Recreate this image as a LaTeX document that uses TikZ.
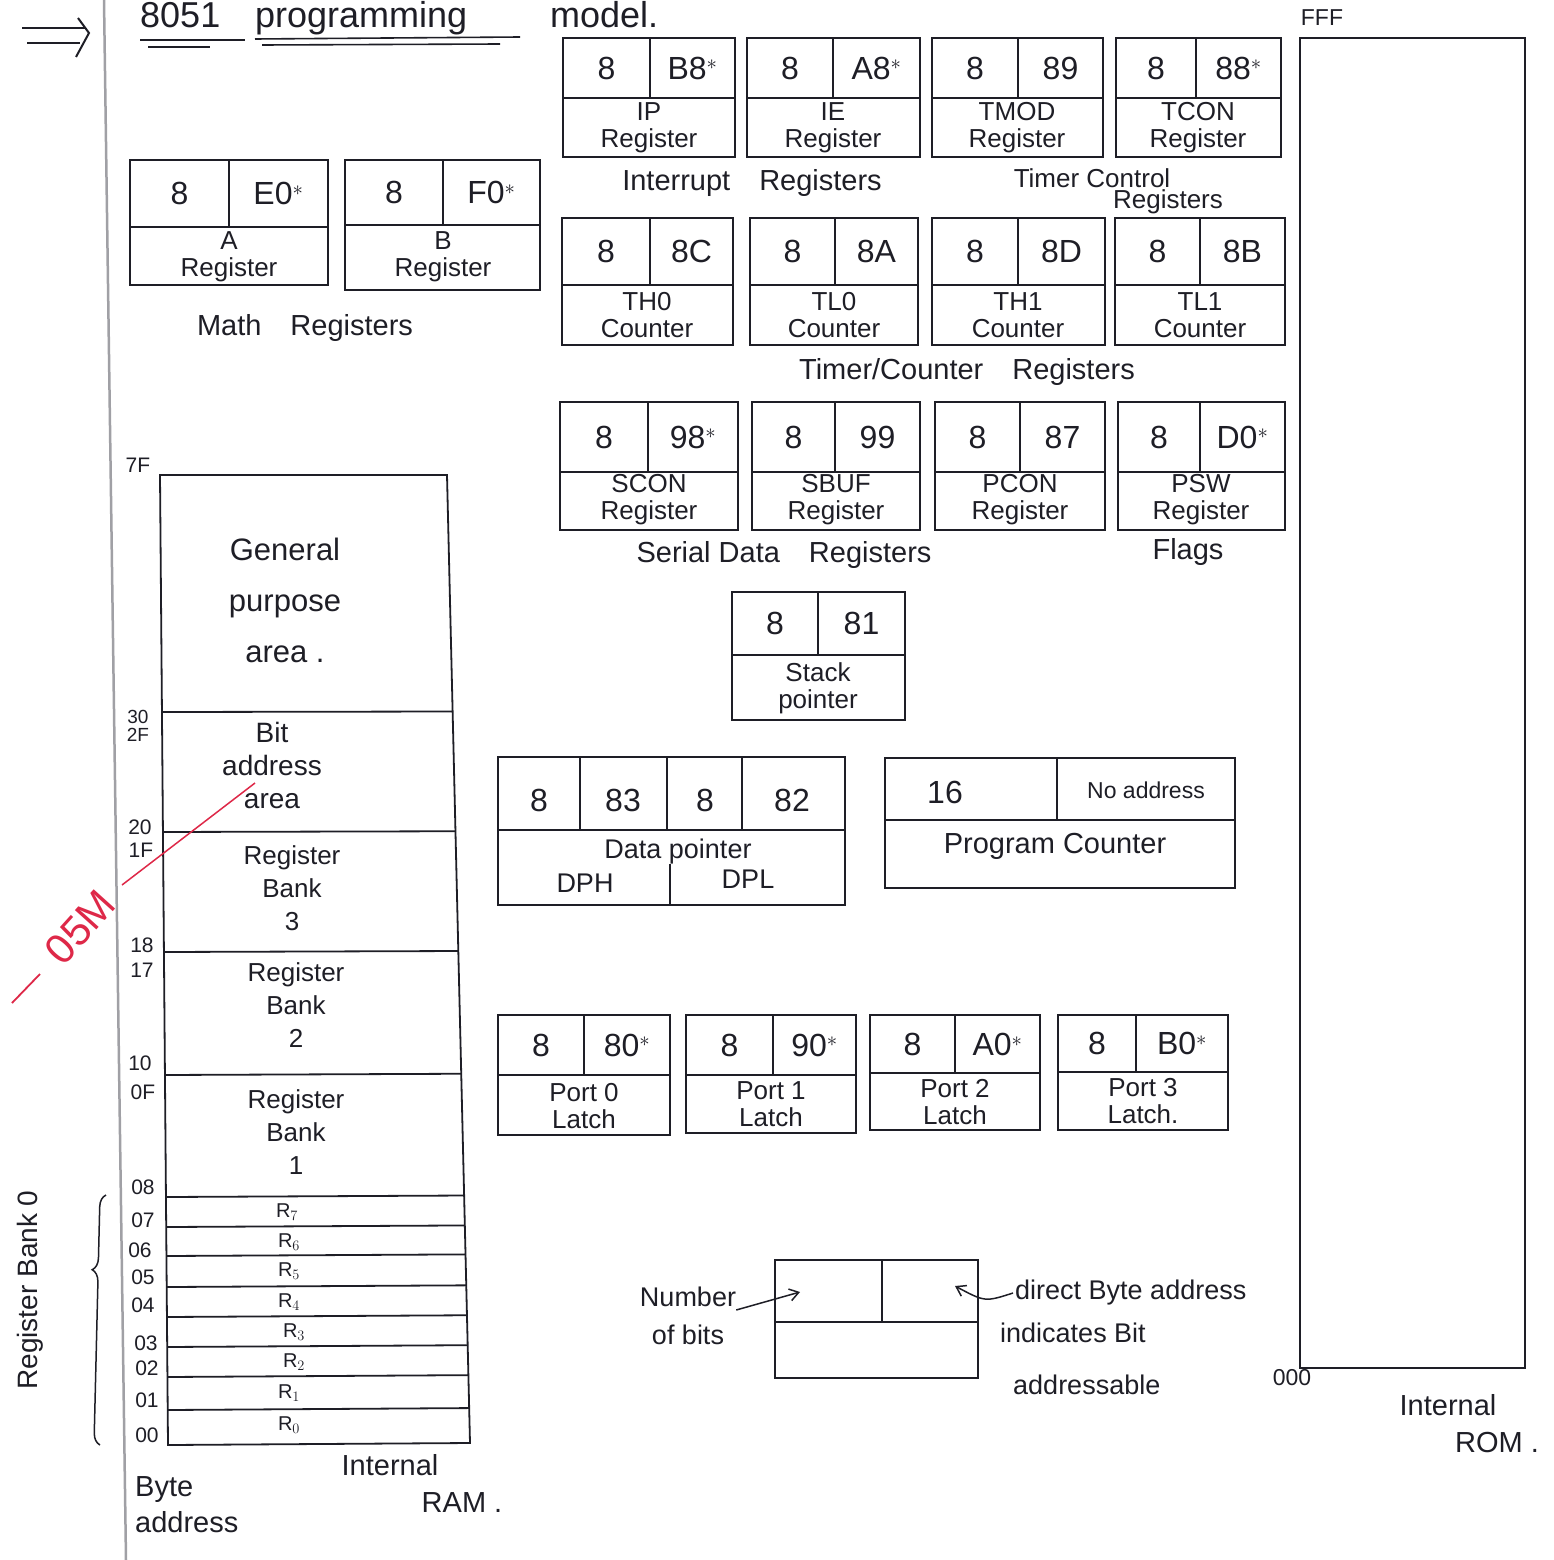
\documentclass[tikz,border=0pt]{standalone}
\usepackage{fontspec}
\setmainfont{Liberation Sans}
\usetikzlibrary{calc,arrows.meta,decorations.pathreplacing}
\definecolor{ink}{RGB}{30,30,38}
\definecolor{redink}{RGB}{222,40,72}
\definecolor{marginc}{RGB}{160,160,165}
\newcommand\regbox[9]{%
  \draw[boxline] (#2,#3) rectangle (#4,#5);
  \draw[boxline] (#2,#7) -- (#4,#7);
  \draw[boxline] (#6,#3) -- (#6,#7);
  \node[num] (#1l) at ({(#2+#6)/2},{(#3+#7)/2}) {#8};
  \node[num] (#1r) at ({(#6+#4)/2},{(#3+#7)/2}) {#9};
}
\begin{document}
\begin{tikzpicture}[x=1pt,y=-1pt,
  boxline/.style={draw=ink, line width=1.8pt},
  num/.style={font=\fontsize{32}{36}\selectfont, text=ink, inner sep=0},
  sub/.style={font=\fontsize{26}{27}\selectfont, text=ink, align=center, inner sep=0},
  grp/.style={font=\fontsize{29}{33}\selectfont, text=ink, align=center, inner sep=0},
  ramtxt/.style={font=\fontsize{26}{33}\selectfont, text=ink, align=center, inner sep=0},
  addr/.style={font=\fontsize{21}{24}\selectfont, text=ink, inner sep=0},
  rr/.style={font=\fontsize{20}{22}\selectfont, text=ink, inner sep=0},
  arr/.style={draw=ink, line width=1.5pt, -{Straight Barb[length=9pt,width=12pt]}},
]
\useasboundingbox (0,0) rectangle (1553,1560);
\fill[white] (0,0) rectangle (1553,1560);

% notebook margin
\draw[marginc, line width=2.5pt] (104,0) -- (126,1560);

% title
\draw[ink, line width=2pt] (22,28) -- (85,28);
\draw[ink, line width=2pt] (27,43) -- (80,43);
\draw[ink, line width=2pt] (78,18) -- (89,33) -- (76,57);
\node[anchor=base west, font=\fontsize{36}{40}\selectfont, text=ink, inner sep=0] (t1) at (140,28) {8051};
\node[anchor=base west, font=\fontsize{36}{40}\selectfont, text=ink, inner sep=0] (t2) at (255,28) {programming};
\node[anchor=base west, font=\fontsize{36}{40}\selectfont, text=ink, inner sep=0] (t3) at (550,28) {model.};
\draw[ink, line width=1.6pt] (140,40) -- (245,40);
\draw[ink, line width=1.6pt] (148,47) -- (210,47);
\draw[ink, line width=1.6pt] (255,39) -- (520,37);
\draw[ink, line width=1.6pt] (262,45) -- (500,44);

% interrupt / timer control
\regbox{ip}{563}{38}{735}{157}{650}{98}{8}{B8$^*$}
\node[sub] (ipb) at (649,128) {IP\\Register};
\regbox{ie}{747}{38}{920}{157}{833}{98}{8}{A8$^*$}
\node[sub] (ieb) at (833,128) {IE\\Register};
\regbox{tmod}{932}{38}{1103}{157}{1018}{98}{8}{89}
\node[sub] (tmodb) at (1017,128) {TMOD\\Register};
\regbox{tcon}{1116}{38}{1281}{157}{1196}{98}{8}{88$^*$}
\node[sub] (tconb) at (1198,128) {TCON\\Register};
\node[grp] (intlab) at (752,183) {Interrupt\quad Registers};
\node[grp, font=\fontsize{26}{30}\selectfont] (tcl1) at (1092,178) {Timer Control};
\node[grp, font=\fontsize{26}{30}\selectfont] (tcl2) at (1168,202) {Registers};

% math
\regbox{a}{130}{160}{328}{285}{229}{227}{8}{E0$^*$}
\node[sub] (ab) at (229,257) {A\\Register};
\regbox{b}{345}{160}{540}{290}{443}{225}{8}{F0$^*$}
\node[sub] (bb) at (443,257) {B\\Register};
\node[grp] (mathlab) at (305,328) {Math\quad Registers};

% timer/counter
\regbox{th0}{562}{218}{733}{345}{650}{285}{8}{8C}
\node[sub] (th0b) at (647,315) {TH0\\Counter};
\regbox{tl0}{750}{218}{918}{345}{835}{285}{8}{8A}
\node[sub] (tl0b) at (834,315) {TL0\\Counter};
\regbox{th1}{932}{218}{1105}{345}{1018}{285}{8}{8D}
\node[sub] (th1b) at (1018,315) {TH1\\Counter};
\regbox{tl1}{1115}{218}{1285}{345}{1200}{285}{8}{8B}
\node[sub] (tl1b) at (1200,315) {TL1\\Counter};
\node[grp] (tclab) at (967,372) {Timer/Counter\quad Registers};

% serial / flags
\regbox{scon}{560}{402}{738}{530}{648}{472}{8}{98$^*$}
\node[sub] (sconb) at (649,500) {SCON\\Register};
\regbox{sbuf}{752}{402}{920}{530}{835}{472}{8}{99}
\node[sub] (sbufb) at (836,500) {SBUF\\Register};
\regbox{pcon}{935}{402}{1105}{530}{1020}{472}{8}{87}
\node[sub] (pconb) at (1020,500) {PCON\\Register};
\regbox{psw}{1118}{402}{1285}{530}{1200}{472}{8}{D0$^*$}
\node[sub] (pswb) at (1201,500) {PSW\\Register};
\node[grp] (serlab) at (784,555) {Serial Data\quad Registers};
\node[grp] (flaglab) at (1188,552) {Flags};

% stack pointer
\regbox{sp}{732}{592}{905}{720}{818}{655}{8}{81}
\node[sub] (spb) at (818,688) {Stack\\pointer};

% data pointer
\draw[boxline] (498,757) rectangle (845,905);
\draw[boxline] (498,830) -- (845,830);
\foreach \xx in {580,667,742} \draw[boxline] (\xx,757) -- (\xx,830);
\draw[boxline] (670,864) -- (670,905);
\node[num] (dp1) at (539,800) {8};
\node[num] (dp2) at (623,800) {83};
\node[num] (dp3) at (705,800) {8};
\node[num] (dp4) at (792,800) {82};
\node[sub, font=\fontsize{27}{30}\selectfont] (dpt) at (678,852) {Data pointer};
\node[sub, font=\fontsize{27}{30}\selectfont] (dph) at (585,883) {DPH};
\node[sub, font=\fontsize{27}{30}\selectfont] (dpl) at (748,879) {DPL};

% program counter
\draw[boxline] (885,758) rectangle (1235,888);
\draw[boxline] (885,820) -- (1235,820);
\draw[boxline] (1057,758) -- (1057,820);
\node[num] (pc1) at (945,792) {16};
\node[sub, font=\fontsize{23}{26}\selectfont] (pc2) at (1146,790) {No address};
\node[sub, font=\fontsize{29}{32}\selectfont] (pcb) at (1055,846) {Program Counter};

% ports
\regbox{p0}{498}{1015}{670}{1135}{584}{1075}{8}{80$^*$}
\node[sub] (p0b) at (584,1106) {Port 0\\Latch};
\regbox{p1}{686}{1015}{856}{1133}{773}{1075}{8}{90$^*$}
\node[sub] (p1b) at (771,1104) {Port 1\\Latch};
\regbox{p2}{870}{1015}{1040}{1130}{955}{1073}{8}{A0$^*$}
\node[sub] (p2b) at (955,1102) {Port 2\\Latch};
\regbox{p3}{1058}{1015}{1228}{1130}{1136}{1072}{8}{B0$^*$}
\node[sub] (p3b) at (1143,1101) {Port 3\\Latch.};

% legend
\draw[boxline] (775,1260) rectangle (978,1378);
\draw[boxline] (775,1322) -- (978,1322);
\draw[boxline] (882,1260) -- (882,1322);
\coordinate (legl) at (800,1292);
\coordinate (legr) at (955,1286);
\node[ramtxt, font=\fontsize{27}{38}\selectfont] (nob) at (688,1316) {Number\\of bits};
\draw[arr] ([yshift=6pt]nob.east) -- (legl);
\node[ramtxt, font=\fontsize{27}{33}\selectfont, anchor=west] (dba) at (1015,1293) {direct Byte address};
\draw[arr] ([xshift=-2pt]dba.west) .. controls (985,1302) .. (legr);
\node[ramtxt, font=\fontsize{27}{33}\selectfont, anchor=west] (ind) at (1000,1333) {indicates Bit};
\node[ramtxt, font=\fontsize{27}{33}\selectfont, anchor=west] (adr) at (1013,1385) {addressable};

% ROM
\draw[boxline] (1300,38) rectangle (1525,1368);
\node[addr, font=\fontsize{23}{26}\selectfont] (fff) at (1322,18) {FFF};
\node[addr, font=\fontsize{23}{26}\selectfont] (zzz) at (1292,1378) {000};
\node[ramtxt, font=\fontsize{29}{32}\selectfont] (rom1) at (1448,1405) {Internal};
\node[ramtxt, font=\fontsize{29}{32}\selectfont] (rom2) at (1497,1442) {ROM .};

% RAM
\coordinate (TL) at (160,475);
\coordinate (TR) at (447,475);
\coordinate (BR) at (470,1443);
\coordinate (BL) at (168,1445);
\draw[boxline] (TL) -- (TR) -- (BR) -- (BL) -- cycle;
\foreach \yy in {712,832,952,1075,1197,1227,1256,1287,1317,1347,1377,1410} {
  \pgfmathsetmacro\ramfrac{(\yy-475)/970}
  \draw[boxline] ($(TL)!\ramfrac!(BL)$) -- ($(TR)!\ramfrac!(BR)$);
}
\node[ramtxt, font=\fontsize{31}{51}\selectfont] (gp) at (285,600) {General\\purpose\\area .};
\node[ramtxt, font=\fontsize{28}{33}\selectfont] (ba) at (272,765) {Bit\\address\\area};
\node[ramtxt] (rb3) at (292,888) {Register\\Bank\\3};
\node[ramtxt] (rb2) at (296,1005) {Register\\Bank\\2};
\node[ramtxt] (rb1) at (296,1132) {Register\\Bank\\1};
\node[rr] (r7) at (287,1212) {R$_7$};
\node[rr] (r6) at (289,1242) {R$_6$};
\node[rr] (r5) at (289,1271) {R$_5$};
\node[rr] (r4) at (289,1302) {R$_4$};
\node[rr] (r3) at (294,1332) {R$_3$};
\node[rr] (r2) at (294,1362) {R$_2$};
\node[rr] (r1) at (289,1393) {R$_1$};
\node[rr] (r0) at (289,1425) {R$_0$};

% byte addresses
\node[addr] (a7f) at (138,465) {7F};
\node[addr, font=\fontsize{19}{22}\selectfont] (a30) at (138,717) {30};
\node[addr, font=\fontsize{19}{22}\selectfont] (a2f) at (138,735) {2F};
\node[addr] (a20) at (140,827) {20};
\node[addr] (a1f) at (141,850) {1F};
\node[addr] (a18) at (142,945) {18};
\node[addr] (a17) at (142,970) {17};
\node[addr] (a10) at (140,1063) {10};
\node[addr] (a0f) at (143,1092) {0F};
\node[addr] (a08) at (143,1187) {08};
\node[addr] (a07) at (143,1220) {07};
\node[addr] (a06) at (140,1250) {06};
\node[addr] (a05) at (143,1277) {05};
\node[addr] (a04) at (143,1305) {04};
\node[addr] (a03) at (146,1343) {03};
\node[addr] (a02) at (147,1368) {02};
\node[addr] (a01) at (147,1400) {01};
\node[addr] (a00) at (147,1435) {00};

\node[ramtxt, anchor=west, align=left, font=\fontsize{29}{36}\selectfont] (byad) at (135,1505) {Byte\\address};
\node[ramtxt, font=\fontsize{29}{32}\selectfont] (ram1) at (390,1465) {Internal};
\node[ramtxt, font=\fontsize{29}{32}\selectfont] (ram2) at (462,1503) {RAM .};

% register bank 0 brace
\node[grp, font=\fontsize{28}{32}\selectfont, rotate=90] (rb0) at (30,1290) {Register Bank 0};
\draw[ink, line width=1.5pt, decorate, decoration={brace, amplitude=12pt, aspect=0.7}] (100,1445) -- (106,1195);

% red examiner mark
\draw[redink, line width=1.5pt] (255,783) -- (122,885);
\draw[redink, line width=1.8pt] (12,1003) -- (40,974);
\node[text=redink, font=\fontsize{42}{46}\selectfont, rotate=48, inner sep=0] (osm) at (80,927) {05M};
\end{tikzpicture}
\end{document}
